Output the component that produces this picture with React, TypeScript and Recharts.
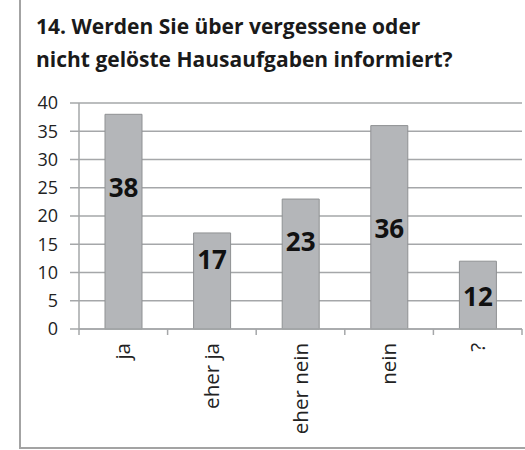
import { Bar, BarChart, CartesianGrid, LabelList, XAxis, YAxis } from "recharts"

const categories = ["ja", "eher ja", "eher nein", "nein", "?"]
const counts = [38, 17, 23, 36, 12]
const yTicks = [0, 5, 10, 15, 20, 25, 30, 35, 40]

// label nudges (px) relative to bar middle, as placed in the original
const labelNudge = [-34, -21, -22, 1, 2]

const data = categories.map((name, i) => ({ name, count: counts[i] }))

const gridColor = "#a5a7a9"

function CategoryTick(props: any) {
  const { x, y, payload, index, visibleTicksCount } = props
  const half = payload?.offset ?? 44
  const last = index === visibleTicksCount - 1
  return (
    <g>
      <line x1={x - half} x2={x - half} y1={y} y2={y + 6} stroke={gridColor} strokeWidth={1.5} />
      {last && (
        <line x1={x + half} x2={x + half} y1={y} y2={y + 6} stroke={gridColor} strokeWidth={1.5} />
      )}
      <text
        x={x}
        y={y + 14}
        dy="0.35em"
        textAnchor="end"
        transform={`rotate(-90, ${x}, ${y + 14})`}
        fontSize={20.5}
        fontFamily="Open Sans"
        fill="#222"
      >
        {payload.value}
      </text>
    </g>
  )
}

function ValueLabel(props: any) {
  const { x, y, width, height, value, index } = props
  return (
    <text
      x={x + width / 2}
      y={y + height / 2 + (labelNudge[index] ?? 0)}
      dy="0.36em"
      textAnchor="middle"
      fontSize={26}
      fontWeight="bold"
      fontFamily="Open Sans"
      fill="#111"
    >
      {value}
    </text>
  )
}

export default function App() {
  return (
    <div style={{ position: "absolute", left: 0, top: 0, width: 525, height: 450, background: "#fff", overflow: "hidden" }}>
      <div style={{ position: "absolute", left: 19, top: 0, width: 2, height: 449, background: "#a3a3a3" }} />
      <div style={{ position: "absolute", left: 19, top: 447, width: 506, height: 2, background: "#a3a3a3" }} />
      <div
        style={{
          position: "absolute",
          left: 36,
          top: 10,
          fontFamily: "Open Sans",
          fontWeight: "bold",
          fontSize: 21,
          lineHeight: "33px",
          color: "#1a1a1a",
          whiteSpace: "nowrap",
        }}
      >
        14. Werden Sie über vergessene oder
        <br />
        nicht gelöste Hausaufgaben informiert?
      </div>
      <div style={{ position: "absolute", left: 0, top: 0 }}>
        <BarChart
          width={525}
          height={450}
          data={data}
          margin={{ top: 103, right: 3, bottom: 21, left: 0 }}
          barSize={37}
        >
          <CartesianGrid vertical={false} stroke={gridColor} strokeWidth={1.5} />
          <XAxis
            dataKey="name"
            height={100}
            axisLine={{ stroke: gridColor, strokeWidth: 1.5 }}
            tickLine={false}
            tickSize={0}
            tickMargin={0}
            interval={0}
            tick={<CategoryTick />}
          />
          <YAxis
            width={79}
            domain={[0, 40]}
            ticks={yTicks}
            interval={0}
            axisLine={{ stroke: gridColor, strokeWidth: 1.5 }}
            tickLine={{ stroke: gridColor, strokeWidth: 1.5 }}
            tickSize={9}
            tickMargin={12}
            tick={{ fontSize: 18, fontFamily: "Open Sans", fill: "#222" }}
          />
          <Bar dataKey="count" fill="#b4b6b9" stroke="#8f9193" strokeWidth={1} isAnimationActive={false}>
            <LabelList dataKey="count" content={<ValueLabel />} />
          </Bar>
        </BarChart>
      </div>
    </div>
  )
}
